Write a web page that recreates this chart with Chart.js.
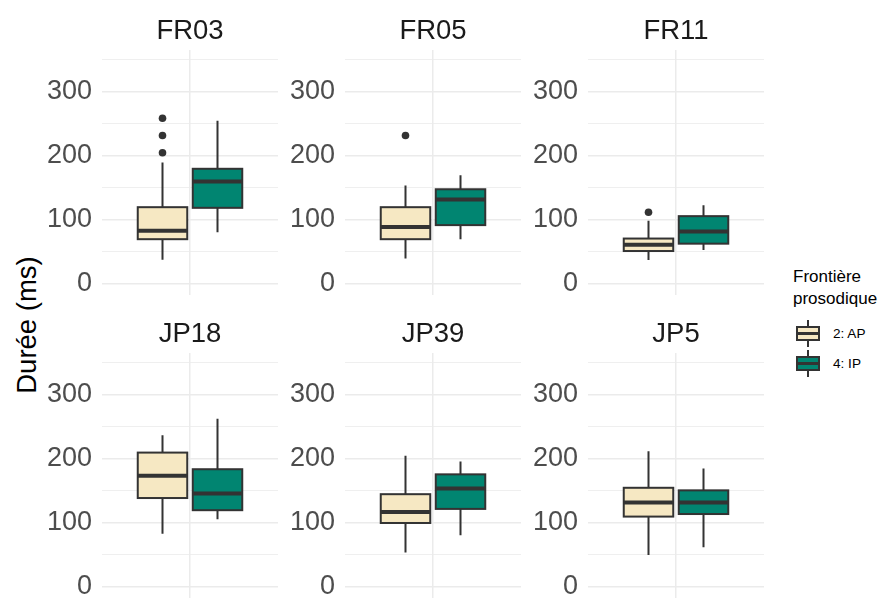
<!DOCTYPE html>
<html>
<head>
<meta charset="utf-8">
<script src="https://cdn.jsdelivr.net/npm/chart.js@4.4.1/dist/chart.umd.min.js"></script>
<style>
  html, body { margin: 0; padding: 0; background: #ffffff; }
  #stage { position: relative; width: 892px; height: 599px; overflow: hidden; background: #ffffff; font-family: "Liberation Sans", Arial, sans-serif; }
  .panel { position: absolute; }
  #ytitle { position: absolute; left: 26.5px; top: 325px; transform: translate(-50%, -50%) rotate(-90deg); font-size: 27.5px; color: #000; white-space: nowrap; }
  .legtitle { position: absolute; left: 793px; font-size: 17px; color: #000; white-space: nowrap; line-height: 1; transform: translateY(-50%); }
  .leglabel { position: absolute; left: 833px; font-size: 13.6px; color: #000; white-space: nowrap; line-height: 1; transform: translateY(-50%); }
  .keywhisk { position: absolute; width: 2px; background: #333333; }
  .keybox { position: absolute; box-sizing: border-box; border: 2px solid #333333; }
  .keymed { position: absolute; height: 3px; background: #333333; }
</style>
</head>
<body>
<div id="stage">
  <div id="ytitle">Durée (ms)</div>
  <div id="legend"></div>
</div>
<script>
// ---------------- data ----------------
const panelNames = ['FR03', 'FR05', 'FR11', 'JP18', 'JP39', 'JP5'];
const groupNames = ['2: AP', '4: IP'];
const legendTitle = ['Frontière', 'prosodique'];

const apLower  = [38, 40, 37.5, 83, 54, 50];
const apQ1     = [70, 70, 51.5, 139, 100, 110];
const apMedian = [83, 89, 61.5, 174, 117, 132];
const apQ3     = [120, 120, 71, 210, 145, 155];
const apUpper  = [190, 154, 99, 237, 205, 212];
const apOutliers = [[205, 232, 259], [232], [112], [], [], []];

const ipLower  = [81, 70, 53, 106, 81, 62];
const ipQ1     = [119, 92, 63, 120, 122, 114];
const ipMedian = [160, 132, 82, 146, 154, 132];
const ipQ3     = [180, 148, 106, 184, 176, 151];
const ipUpper  = [255, 170, 123, 263, 196, 185];
const ipOutliers = [[], [], [], [], [], []];

const yTickLabels = [0, 100, 200, 300];
const yMinorTicks = [50, 150, 250, 350];

// ---------------- styles ----------------
const FONT = '"Liberation Sans", Arial, sans-serif';
const groupFill = ['#F6E8C3', '#018571'];
const lineCol = '#333333';
const gridCol = '#EBEBEB';
const colPlotLeft = [102, 345, 588];
const rowPlotTop = [50, 353];
const plotW = 176, plotH = 245, axisW = 80, titleH = 50;
const dodge = 0.1875, halfBox = 0.16875;

const boxPlugin = {
  id: 'boxes',
  beforeDatasetsDraw(chart, args, opts) {
    const ctx = chart.ctx, xs = chart.scales.x, ys = chart.scales.y;
    opts.stats.forEach((s, g) => {
      const cx = xs.getPixelForValue(s.center);
      const xl = xs.getPixelForValue(s.center - halfBox);
      const xr = xs.getPixelForValue(s.center + halfBox);
      const yLo = ys.getPixelForValue(s.lo), yQ1 = ys.getPixelForValue(s.q1);
      const yMed = ys.getPixelForValue(s.med), yQ3 = ys.getPixelForValue(s.q3);
      const yHi = ys.getPixelForValue(s.hi);
      ctx.save();
      ctx.strokeStyle = lineCol;
      ctx.lineWidth = 2;
      ctx.beginPath();
      ctx.moveTo(cx, yHi); ctx.lineTo(cx, yQ3);
      ctx.moveTo(cx, yQ1); ctx.lineTo(cx, yLo);
      ctx.stroke();
      ctx.fillStyle = groupFill[g];
      ctx.fillRect(xl, yQ3, xr - xl, yQ1 - yQ3);
      ctx.strokeRect(xl, yQ3, xr - xl, yQ1 - yQ3);
      ctx.lineWidth = 4;
      ctx.beginPath();
      ctx.moveTo(xl, yMed); ctx.lineTo(xr, yMed);
      ctx.stroke();
      ctx.restore();
    });
  }
};

const stage = document.getElementById('stage');

panelNames.forEach((name, i) => {
  const col = i % 3, row = Math.floor(i / 3);
  const wrap = document.createElement('div');
  wrap.className = 'panel';
  wrap.style.left = (colPlotLeft[col] - axisW) + 'px';
  wrap.style.top = (rowPlotTop[row] - titleH) + 'px';
  const cv = document.createElement('canvas');
  cv.width = axisW + plotW; cv.height = titleH + plotH;
  cv.style.width = cv.width + 'px'; cv.style.height = cv.height + 'px';
  wrap.appendChild(cv);
  stage.appendChild(wrap);

  const stats = [
    { center: 1 - dodge, lo: apLower[i], q1: apQ1[i], med: apMedian[i], q3: apQ3[i], hi: apUpper[i] },
    { center: 1 + dodge, lo: ipLower[i], q1: ipQ1[i], med: ipMedian[i], q3: ipQ3[i], hi: ipUpper[i] }
  ];

  new Chart(cv, {
    type: 'scatter',
    data: {
      datasets: [
        { label: groupNames[0], data: apOutliers[i].map(v => ({ x: 1 - dodge, y: v })),
          pointRadius: 3.8, pointBackgroundColor: lineCol, pointBorderWidth: 0 },
        { label: groupNames[1], data: ipOutliers[i].map(v => ({ x: 1 + dodge, y: v })),
          pointRadius: 3.8, pointBackgroundColor: lineCol, pointBorderWidth: 0 }
      ]
    },
    options: {
      responsive: false,
      animation: false,
      devicePixelRatio: 1,
      layout: { padding: 0, autoPadding: false },
      events: [],
      plugins: {
        legend: { display: false },
        tooltip: { enabled: false },
        title: {
          display: true, text: name, fullSize: false, color: '#1A1A1A',
          font: { family: FONT, size: 27.5, weight: 'normal', lineHeight: 1.2 },
          padding: { top: 14.5, bottom: 2.5 }
        },
        boxes: { stats }
      },
      scales: {
        x: {
          type: 'linear', min: 0.4, max: 1.6,
          afterBuildTicks: s => { s.ticks = [{ value: 1 }]; },
          ticks: { display: false },
          grid: { color: gridCol, lineWidth: 1.5, drawTicks: false },
          border: { display: false },
          afterFit: s => { s.height = 0; s.paddingLeft = 0; s.paddingRight = 0; s.paddingTop = 0; s.paddingBottom = 0; }
        },
        y: {
          type: 'linear', min: -17.2, max: 365.6,
          afterBuildTicks: s => { s.ticks = yTickLabels.concat(yMinorTicks).sort((a, b) => a - b).map(v => ({ value: v })); },
          ticks: {
            callback: v => yTickLabels.includes(v) ? String(v) : '',
            font: { family: FONT, size: 27 }, color: '#4D4D4D', padding: 10, autoSkip: false
          },
          grid: {
            color: gridCol, drawTicks: false,
            lineWidth: c => (c.tick && yTickLabels.includes(c.tick.value)) ? 1.5 : 0.8
          },
          border: { display: false },
          afterFit: s => { s.width = axisW; s.paddingTop = 0; s.paddingBottom = 0; s.paddingLeft = 0; s.paddingRight = 0; }
        }
      }
    },
    plugins: [boxPlugin]
  });
});

// ---------------- legend ----------------
const leg = document.getElementById('legend');
function addEl(cls, css, text) {
  const d = document.createElement('div');
  d.className = cls;
  Object.assign(d.style, css);
  if (text !== undefined) d.textContent = text;
  leg.appendChild(d);
  return d;
}
addEl('legtitle', { top: '276px' }, legendTitle[0]);
addEl('legtitle', { top: '298px' }, legendTitle[1]);
const keyTops = [320, 350];
groupNames.forEach((g, k) => {
  const t = keyTops[k];
  addEl('keywhisk', { left: '807px', top: t + 'px', height: '27px' });
  addEl('keybox', { left: '796px', top: (t + 6) + 'px', width: '24px', height: '15px', background: groupFill[k] });
  addEl('keymed', { left: '796px', top: (t + 12) + 'px', width: '24px' });
  addEl('leglabel', { top: (t + 14) + 'px' }, g);
});
</script>
</body>
</html>
